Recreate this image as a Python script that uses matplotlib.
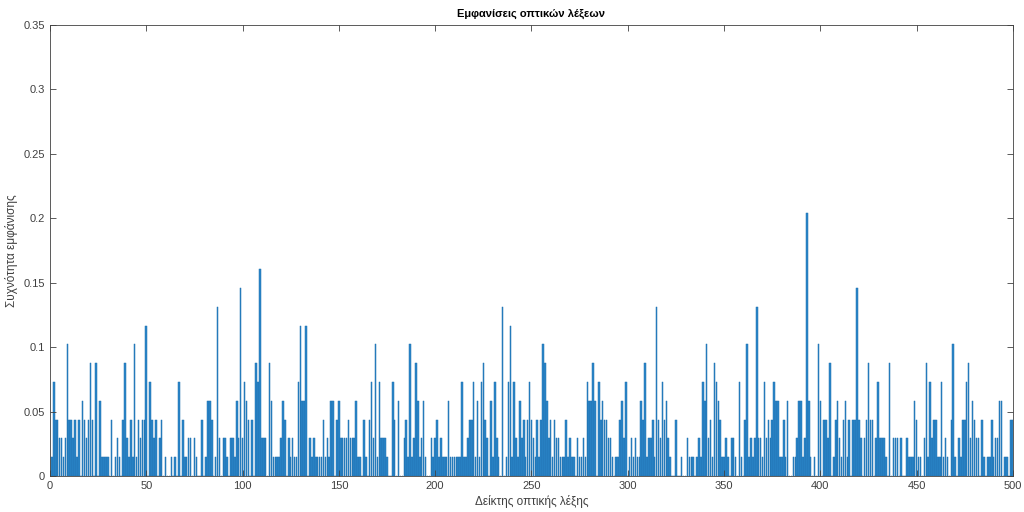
import numpy as np
import matplotlib
matplotlib.use("Agg")
from matplotlib import pyplot as plt

# occurrence counts per visual word (1 unit ~ 0.01458)
unit = 0.01458
counts = [
    1, 5, 3, 3, 2, 2, 1, 2, 7, 3,
    3, 2, 3, 1, 3, 0, 4, 3, 2, 3,
    6, 3, 0, 6, 0, 4, 1, 1, 1, 1,
    0, 3, 0, 1, 2, 1, 0, 3, 6, 2,
    1, 3, 1, 7, 1, 3, 2, 3, 3, 8,
    0, 5, 3, 2, 3, 0, 2, 3, 0, 1,
    0, 0, 1, 0, 1, 0, 5, 0, 3, 1,
    1, 2, 2, 0, 2, 1, 0, 0, 3, 0,
    1, 4, 4, 3, 0, 1, 9, 2, 0, 2,
    2, 1, 0, 2, 2, 1, 4, 2, 10, 2,
    5, 4, 3, 0, 3, 0, 6, 5, 11, 2,
    2, 2, 0, 6, 4, 1, 1, 1, 1, 2,
    4, 3, 0, 2, 1, 2, 1, 1, 5, 8,
    4, 4, 8, 0, 2, 1, 2, 1, 1, 1,
    1, 3, 1, 2, 1, 4, 4, 0, 3, 4,
    2, 2, 2, 2, 3, 2, 2, 2, 4, 1,
    1, 0, 3, 1, 0, 3, 5, 2, 7, 1,
    5, 2, 2, 2, 1, 0, 0, 5, 3, 0,
    4, 0, 0, 2, 3, 1, 7, 1, 2, 6,
    4, 1, 2, 4, 1, 0, 0, 2, 1, 2,
    3, 1, 2, 1, 1, 1, 4, 1, 1, 1,
    1, 1, 1, 5, 1, 1, 2, 3, 3, 5,
    1, 4, 1, 5, 6, 3, 2, 0, 4, 1,
    5, 2, 1, 0, 9, 0, 1, 5, 8, 1,
    5, 2, 1, 4, 2, 3, 1, 3, 5, 3,
    2, 1, 3, 1, 3, 7, 6, 4, 2, 3,
    1, 3, 2, 2, 1, 1, 1, 3, 1, 2,
    1, 1, 0, 2, 1, 1, 2, 1, 5, 4,
    4, 6, 4, 0, 5, 3, 4, 3, 3, 2,
    2, 1, 0, 1, 1, 3, 4, 2, 5, 0,
    1, 2, 1, 2, 1, 1, 4, 3, 6, 1,
    2, 2, 3, 1, 9, 3, 2, 5, 3, 4,
    2, 1, 0, 0, 3, 0, 0, 1, 0, 0,
    2, 1, 1, 1, 0, 1, 2, 1, 5, 4,
    7, 2, 3, 1, 6, 5, 4, 3, 1, 1,
    2, 1, 0, 2, 2, 1, 0, 5, 1, 0,
    3, 7, 1, 2, 1, 2, 9, 2, 2, 1,
    5, 2, 3, 2, 3, 5, 4, 4, 1, 1,
    3, 1, 4, 0, 0, 1, 1, 2, 4, 4,
    1, 2, 14, 4, 1, 0, 1, 0, 7, 4,
    0, 3, 3, 2, 6, 0, 1, 3, 4, 2,
    1, 3, 4, 1, 3, 0, 3, 3, 10, 3,
    2, 0, 2, 3, 6, 3, 3, 0, 2, 5,
    2, 2, 2, 1, 0, 6, 0, 2, 2, 2,
    0, 2, 0, 0, 2, 1, 1, 1, 4, 3,
    1, 1, 0, 2, 6, 1, 5, 2, 3, 3,
    1, 1, 5, 1, 2, 1, 0, 3, 7, 1,
    0, 2, 1, 3, 3, 5, 6, 2, 4, 3,
    2, 2, 0, 3, 1, 0, 1, 1, 3, 1,
    2, 2, 4, 4, 0, 1, 1, 0, 3, 3,
]
word_index = np.arange(1, len(counts) + 1)
frequency = np.array(counts) * unit

x_ticks = np.arange(0, 501, 50)
y_ticks = np.arange(0, 0.351, 0.05)
y_labels = ["0", "0.05", "0.1", "0.15", "0.2", "0.25", "0.3", "0.35"]

plt.rcParams["font.family"] = ["Liberation Sans", "DejaVu Sans"]

fig = plt.figure(figsize=(10.24, 5.12), dpi=100)
ax = fig.add_axes([0.0488, 0.0703, 0.9404, 0.8809])
ax.bar(word_index, frequency, width=0.8, color="#2a86c9",
       edgecolor="#1f6fae", linewidth=0.35)

ax.set_xlim(0, 500)
ax.set_ylim(0, 0.35)
ax.set_xticks(x_ticks)
ax.set_yticks(y_ticks)
ax.set_yticklabels(y_labels)
ax.tick_params(direction="in", length=4, width=0.6, labelsize=8, colors="#404040",
               top=True, right=True)
for s in ax.spines.values():
    s.set_linewidth(0.6)
    s.set_color("#404040")

ax.set_title("Εμφανίσεις οπτικών λέξεων", fontsize=8, fontweight="bold", pad=6)
ax.set_xlabel("Δείκτης οπτικής λέξης", fontsize=8.5, color="#404040", labelpad=3)
ax.set_ylabel("Συχνότητα εμφάνισης", fontsize=8.5, color="#404040", labelpad=4)

fig.savefig("out.png", dpi=100, facecolor="white")
